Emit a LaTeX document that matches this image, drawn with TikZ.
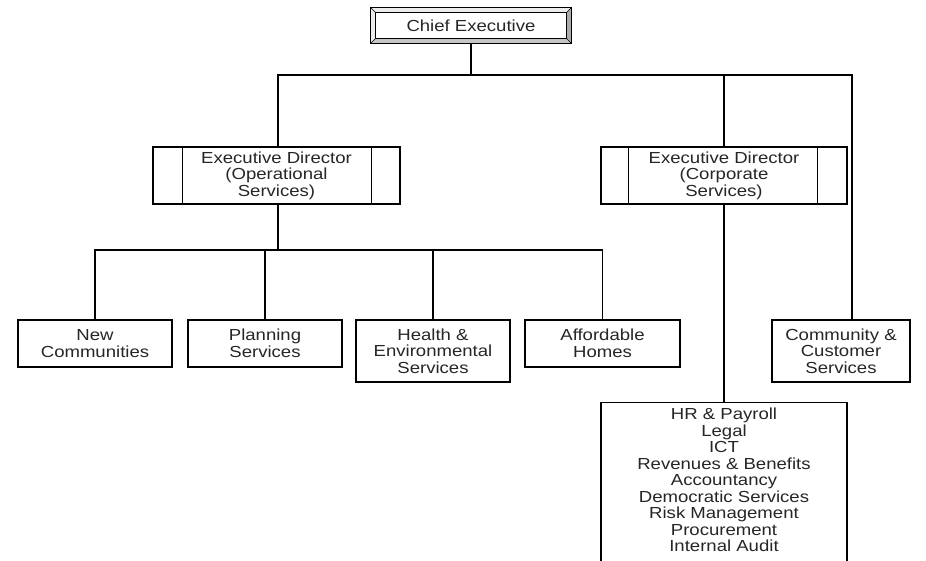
\documentclass[tikz,border=0pt]{standalone}
\usepackage{fontspec}
\setmainfont{Liberation Sans}[FakeStretch=1.16]
\begin{document}
\begin{tikzpicture}[x=1pt,y=-1pt,
  lbl/.style={font=\fontsize{16}{16.5}\selectfont, align=center, text=black!85},
  box/.style={lbl, draw, line width=1.2pt, inner sep=0pt},
  conn/.style={line width=1.2pt}]
\useasboundingbox (0,0) rectangle (926,560);
\clip (0,0) rectangle (926,560);
\fill[white] (0,0) rectangle (926,560);
% Chief executive with bevelled frame
\node[box, minimum width=200, minimum height=35] (ceo) at (471,25.5) {};
\fill[gray!15] (ceo.north west) -- (ceo.north east) -- ([shift={(-5,5)}]ceo.north east) -- ([shift={(5,5)}]ceo.north west) -- ([shift={(5,-5)}]ceo.south west) -- (ceo.south west) -- cycle;
\fill[gray!65] (ceo.north east) -- (ceo.south east) -- ([shift={(-5,-5)}]ceo.south east) -- ([shift={(-5,5)}]ceo.north east) -- cycle;
\fill[gray!45] (ceo.south west) -- (ceo.south east) -- ([shift={(-5,-5)}]ceo.south east) -- ([shift={(5,-5)}]ceo.south west) -- cycle;
\draw[line width=1.2pt] (ceo.north west) rectangle (ceo.south east);
\draw[line width=0.8pt] ([shift={(5,5)}]ceo.north west) rectangle ([shift={(-5,-5)}]ceo.south east);
\draw[line width=0.6pt] (ceo.north west) -- ([shift={(5,5)}]ceo.north west)
  (ceo.north east) -- ([shift={(-5,5)}]ceo.north east)
  (ceo.south west) -- ([shift={(5,-5)}]ceo.south west)
  (ceo.south east) -- ([shift={(-5,-5)}]ceo.south east);
\node[lbl] (ceotext) at (ceo.center) {Chief Executive};
% Executive directors
\node[box, minimum width=247, minimum height=57] (ed1) at (276.5,175.5) {Executive Director\\(Operational\\Services)};
\draw[line width=1.2pt] ([xshift=30]ed1.north west) -- ([xshift=30]ed1.south west)
  ([xshift=-29]ed1.north east) -- ([xshift=-29]ed1.south east);
\node[box, minimum width=246, minimum height=57] (ed2) at (724,175.5) {Executive Director\\(Corporate\\Services)};
\draw[line width=1.2pt] ([xshift=28]ed2.north west) -- ([xshift=28]ed2.south west)
  ([xshift=-30]ed2.north east) -- ([xshift=-30]ed2.south east);
% Services
\node[box, minimum width=154, minimum height=47] (nc) at (95,343.5) {New\\Communities};
\node[box, minimum width=154, minimum height=47] (pl) at (265,343.5) {Planning\\Services};
\node[box, minimum width=154, minimum height=62] (he) at (433,351) {Health \&\\Environmental\\Services};
\node[box, minimum width=155, minimum height=47] (af) at (602.5,343.5) {Affordable\\Homes};
\node[box, minimum width=138, minimum height=62] (cm) at (841,351) {Community \&\\Customer\\Services};
% Corporate services list
\node[draw, line width=1.2pt, minimum width=246, minimum height=180, anchor=north, inner sep=0pt] (cs) at (724,402) {};
\node[lbl, anchor=north, inner sep=0pt] (cstext) at (724,408) {HR \& Payroll\\Legal\\ICT\\Revenues \& Benefits\\Accountancy\\Democratic Services\\Risk Management\\Procurement\\Internal Audit};
% Connectors
\coordinate (h1) at (278,75);
\coordinate (h2) at (852,75);
\coordinate (b1) at (278,250);
\draw[conn] (ceo.south) -- (ceo.south |- h1);
\draw[conn] (ed1.north -| h1) -- (h1) -- (h2) -- (h2 |- cm.north);
\draw[conn] (ed2.north) -- (ed2.north |- h1);
\draw[conn] (ed1.south -| b1) -- (b1);
\draw[conn] (nc.north) -- (nc.north |- b1) -- (af.north |- b1) -- (af.north);
\draw[conn] (pl.north) -- (pl.north |- b1);
\draw[conn] (he.north) -- (he.north |- b1);
\draw[conn] (ed2.south) -- (cs.north);
\end{tikzpicture}
\end{document}
